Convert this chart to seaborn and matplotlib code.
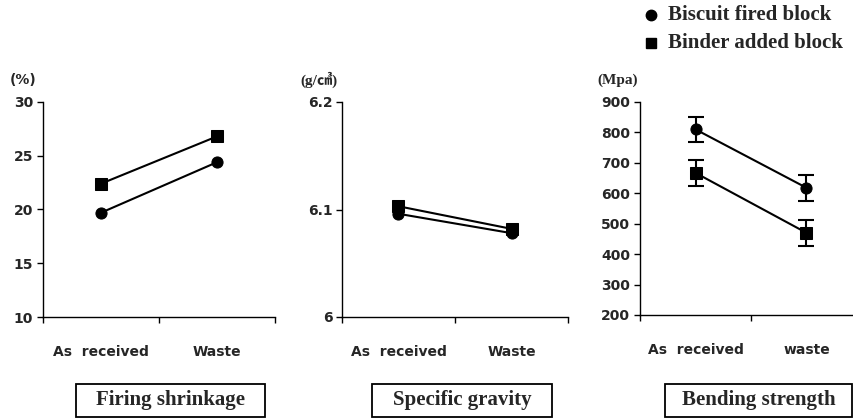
import numpy as np
import pandas as pd
import matplotlib
matplotlib.use('Agg')
import matplotlib.pyplot as plt
import matplotlib.patches as mpatches
import seaborn as sns

# Data
categories = ['As  received', 'Waste']
series = ['Biscuit fired block', 'Binder added block']

shrink_biscuit = [19.7, 24.4]
shrink_binder = [22.4, 26.8]

gravity_biscuit = [6.096, 6.078]
gravity_binder = [6.103, 6.082]

bend_biscuit = [810, 618]
bend_binder = [667, 470]
bend_biscuit_err = [40, 43]
bend_binder_err = [43, 43]

panel_titles = ['Firing shrinkage', 'Specific gravity', 'Bending strength']
units = ['(%)', '(g/㎤)', '(Mpa)']
yticks_list = [[10, 15, 20, 25, 30], [6, 6.1, 6.2], [200, 300, 400, 500, 600, 700, 800, 900]]
ytick_labels = [['10', '15', '20', '25', '30'], ['6', '6.1', '6.2'],
                ['200', '300', '400', '500', '600', '700', '800', '900']]
xlabels_list = [['As  received', 'Waste'], ['As  received', 'Waste'], ['As  received', 'waste']]

sns.set_style('white')
plt.rcParams['font.family'] = ['DejaVu Sans', 'Noto Sans CJK KR']

fig = plt.figure(figsize=(8.54, 4.19), dpi=100)

# axes boxes in pixels: left, bottom(px from top), width, height
boxes = [(43, 317, 232, 215), (342, 317, 226, 215), (640, 315, 222, 213)]
axes = []
for (l, b, w, h) in boxes:
    axes.append(fig.add_axes([l / 854, (419 - b) / 419, w / 854, h / 419]))

xpos = [0.5, 1.5]
panel_data = [(shrink_biscuit, shrink_binder), (gravity_biscuit, gravity_binder), (bend_biscuit, bend_binder)]

for i, ax in enumerate(axes):
    a, b = panel_data[i]
    df = pd.DataFrame({
        'x': xpos * 2,
        'y': list(a) + list(b),
        'series': [series[0]] * 2 + [series[1]] * 2,
    })
    sns.lineplot(data=df, x='x', y='y', style='series', markers={series[0]: 'o', series[1]: 's'},
                 dashes=False, color='black', markersize=8, linewidth=1.5,
                 markeredgecolor='black', legend=False, ax=ax)
    if i == 2:
        ax.errorbar(xpos, bend_biscuit, yerr=bend_biscuit_err, fmt='none', ecolor='black',
                    elinewidth=1.5, capsize=6, capthick=1.5)
        ax.errorbar(xpos, bend_binder, yerr=bend_binder_err, fmt='none', ecolor='black',
                    elinewidth=1.5, capsize=6, capthick=1.5)
    yt = yticks_list[i]
    ax.set_ylim(yt[0], yt[-1])
    ax.set_yticks(yt)
    ax.set_yticklabels(ytick_labels[i], fontsize=10, fontweight='bold')
    ax.set_xlim(0, 2)
    ax.set_xticks([0, 1, 2])
    ax.set_xticklabels(['', '', ''])
    ax.set_xticks(xpos, minor=True)
    ax.set_xticklabels(xlabels_list[i], minor=True, fontsize=10, fontweight='bold')
    ax.tick_params(axis='x', which='minor', length=0, pad=20)
    ax.tick_params(axis='x', which='major', length=4, width=1, color='black', direction='out', bottom=True)
    ax.tick_params(axis='y', length=4, width=1, color='black', direction='out', left=True, pad=3)
    ax.set_xlabel('')
    ax.set_ylabel('')
    for s in ['top', 'right']:
        ax.spines[s].set_visible(False)
    for s in ['left', 'bottom']:
        ax.spines[s].set_color('black')
        ax.spines[s].set_linewidth(1)
    ax.set_facecolor('white')

# unit labels
fig.text(10 / 854, 1 - 80 / 419, units[0], fontsize=10, fontweight='bold', va='center', ha='left')
fig.text(300 / 854, 1 - 80 / 419, units[1], fontsize=11, fontweight='bold',
         family=['Liberation Serif', 'Noto Sans CJK KR'], va='center', ha='left')
fig.text(597 / 854, 1 - 80 / 419, units[2], fontsize=11, fontweight='bold',
         family=['Liberation Serif'], va='center', ha='left')

# boxed panel titles
title_boxes = [(76, 265), (372, 552), (665, 852)]
for i, t in enumerate(panel_titles):
    x0, x1 = title_boxes[i]
    fig.patches.append(mpatches.Rectangle((x0 / 854, 1 - 417 / 419), (x1 - x0) / 854, 33 / 419,
                                          transform=fig.transFigure, facecolor='white',
                                          edgecolor='black', linewidth=1.3))
    fig.text((x0 + x1) / 2 / 854, 1 - 400 / 419, t, fontsize=15, fontweight='bold',
             family=['Liberation Serif'], ha='center', va='center')

# legend
fig.lines.append(plt.Line2D([651 / 854], [1 - 15 / 419], marker='o', color='black', markersize=7.5,
                            transform=fig.transFigure, linestyle='none'))
fig.lines.append(plt.Line2D([651 / 854], [1 - 43 / 419], marker='s', color='black', markersize=7,
                            transform=fig.transFigure, linestyle='none'))
fig.text(668 / 854, 1 - 15 / 419, series[0], fontsize=15, fontweight='bold',
         family=['Liberation Serif'], va='center', ha='left')
fig.text(668 / 854, 1 - 43 / 419, series[1], fontsize=15, fontweight='bold',
         family=['Liberation Serif'], va='center', ha='left')

fig.savefig('out.png', dpi=100, facecolor='white')
